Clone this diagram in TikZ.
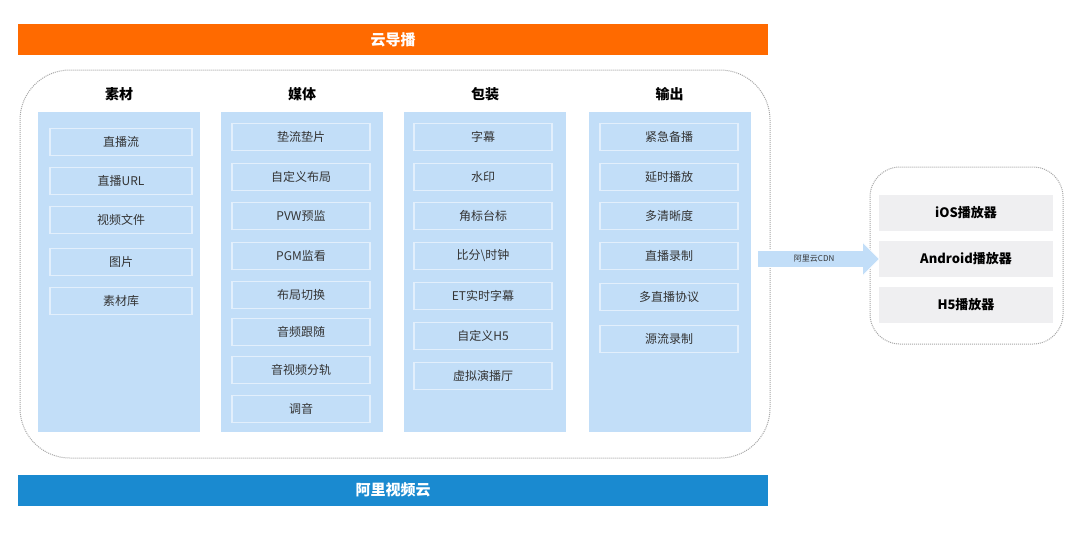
\documentclass[tikz,border=0pt]{standalone}
\usepackage{fontspec}
\setmainfont{Noto Sans CJK SC}
\usetikzlibrary{shapes.arrows}
\definecolor{orng}{HTML}{FF6A00}
\definecolor{blubar}{HTML}{1A8AD0}
\definecolor{colbg}{HTML}{C2DEF8}
\definecolor{itemln}{HTML}{E2EFFC}
\definecolor{txt}{HTML}{333333}
\definecolor{gbox}{HTML}{EFEFF1}
\tikzset{
  bar/.style={minimum height=31pt,text=white,font=\fontsize{15}{15}\selectfont\bfseries,inner sep=0},
  colbox/.style={fill=colbg,draw=none,minimum width=162pt,minimum height=320pt,inner sep=0},
  item/.style={draw=itemln,line width=1.2pt,minimum width=142pt,minimum height=27pt,inner sep=0,text=txt,font=\fontsize{12}{12}\selectfont},
  head/.style={text=black,font=\fontsize{14}{14}\selectfont\bfseries},
  dotbox/.style={draw=gray!70,densely dotted,line width=1pt},
  pbox/.style={fill=gbox,minimum width=174pt,minimum height=36pt,inner sep=0,text=black,font=\fontsize{13}{13}\selectfont\bfseries}
}
\begin{document}
\begin{tikzpicture}[x=1pt,y=-1pt]
\useasboundingbox (0,0) rectangle (1080,533);
\node[bar,fill=orng,minimum width=750pt] (top) at (393,39.5) {云导播};
\node[bar,fill=blubar,minimum width=750pt] (bot) at (393,490) {阿里视频云};
\draw[dotbox,rounded corners=50pt] (20,70) rectangle (770,458);
\foreach \n/\x/\h in {c1/119/素材,c2/302/媒体,c3/485/包装,c4/669.5/输出}{
  \node[colbox] (\n) at (\x,272) {};
  \node[head] (\n h) at (\x,94) {\h};
}
\foreach \y/\t [count=\i] in {142/直播流,181/直播URL,220/视频文件,262/图片,301/素材库}
  \node[item] (a\i) at (121,\y) {\t};
\foreach \y/\t [count=\i] in {137/垫流垫片,177/自定义布局,216/PVW预监,256/PGM监看,295/布局切换,332/音频跟随,370/音视频分轨,409/调音}
  \node[item,minimum width=138pt] (b\i) at (301,\y) {\t};
\foreach \y/\t [count=\i] in {137/字幕,177/水印,216/角标台标,256/比分\textbackslash 时钟,296/ET实时字幕,336/自定义H5,376/虚拟演播厅}
  \node[item,minimum width=138pt] (d\i) at (483,\y) {\t};
\foreach \y/\t [count=\i] in {137/紧急备播,177/延时播放,216/多清晰度,256/直播录制,297/多直播协议,339/源流录制}
  \node[item,minimum width=138pt] (e\i) at (669,\y) {\t};
\draw[dotbox,rounded corners=30pt] (870,167) rectangle (1063,344);
\node[pbox] (p1) at (966,213) {iOS播放器};
\node[pbox] (p2) at (966,259) {Android播放器};
\node[pbox] (p3) at (966,305) {H5播放器};
\node[single arrow,fill=colbg,draw=white,line width=0.8pt,minimum height=122pt,minimum width=34pt,single arrow head extend=6pt,inner sep=2pt,text=txt,font=\fontsize{8}{8}\selectfont,anchor=west] (cdn) at (757,259) {阿里云CDN\hspace{14pt}};
\end{tikzpicture}
\end{document}
